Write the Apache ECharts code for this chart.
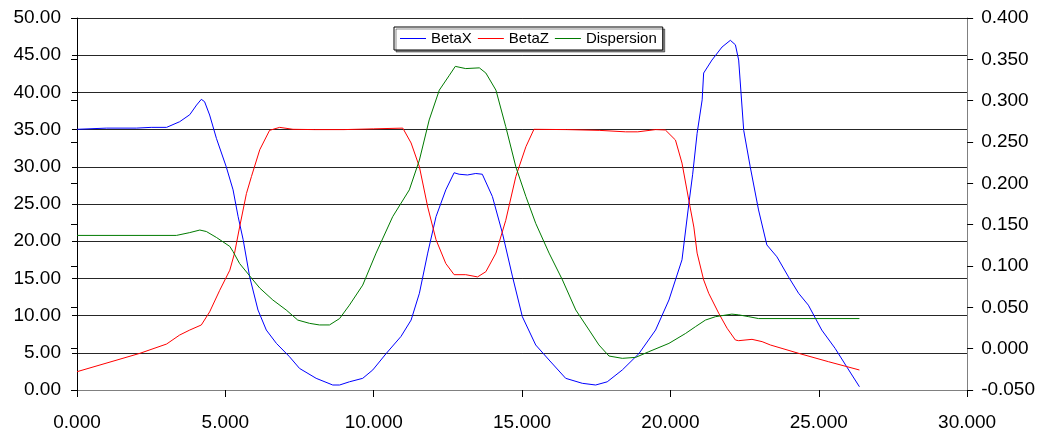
<!DOCTYPE html>
<html>
<head>
<meta charset="utf-8">
<script src="https://cdn.jsdelivr.net/npm/echarts@6/dist/echarts.min.js"></script>
<style>
  html, body { margin: 0; padding: 0; background: #fff; }
  #chart { width: 1038px; height: 434px; }
</style>
</head>
<body>
<div id="chart"></div>
<script>
// Beam optics functions along the lattice (s in m)
const sBetaX = [0, 1.0, 2.0, 2.5, 3.02, 3.46, 3.8, 4.03, 4.19, 4.3, 4.47, 4.7, 5.03, 5.26, 5.43, 5.6, 5.82, 6.1, 6.38, 6.72, 7.16, 7.5, 8.06, 8.62, 8.85, 9.18, 9.63, 9.97, 10.42, 10.92, 11.26, 11.54, 11.82, 12.1, 12.43, 12.71, 12.88, 13.16, 13.44, 13.66, 14.0, 14.34, 14.68, 15.01, 15.46, 15.91, 16.47, 17.03, 17.48, 17.87, 18.38, 18.94, 19.5, 19.95, 20.39, 20.62, 20.75, 20.9, 21.07, 21.12, 21.4, 21.74, 22.02, 22.19, 22.3, 22.47, 22.69, 22.97, 23.25, 23.59, 23.98, 24.32, 24.65, 25.1, 25.55, 25.94, 26.37];
const betaX = [35.04, 35.2, 35.2, 35.3, 35.3, 36.06, 37.0, 38.3, 39.07, 38.75, 36.96, 33.8, 30.0, 26.9, 23.3, 20.2, 15.2, 10.75, 8.06, 6.27, 4.48, 2.9, 1.57, 0.67, 0.67, 1.1, 1.57, 2.7, 4.9, 7.2, 9.4, 13.0, 18.4, 23.3, 26.9, 29.2, 29.0, 28.9, 29.1, 29.0, 26.0, 21.06, 15.2, 9.85, 6.05, 4.03, 1.57, 0.9, 0.67, 1.1, 2.7, 4.9, 8.06, 12.1, 17.5, 25.0, 29.0, 34.5, 39.0, 42.6, 44.35, 46.1, 47.0, 46.4, 44.35, 34.9, 30.0, 24.2, 19.5, 17.9, 15.2, 13.0, 11.4, 8.06, 5.6, 3.13, 0.44];

const sBetaZ = [0, 2.12, 3.02, 3.46, 3.8, 4.19, 4.47, 4.81, 5.15, 5.31, 5.48, 5.71, 5.88, 6.16, 6.49, 6.83, 7.28, 8.0, 9.0, 10.0, 10.98, 11.26, 11.54, 11.82, 12.1, 12.43, 12.71, 13.1, 13.5, 13.78, 14.12, 14.45, 14.79, 15.13, 15.4, 16.5, 17.6, 18.49, 18.9, 19.5, 19.83, 20.17, 20.39, 20.62, 20.79, 20.9, 21.12, 21.29, 21.63, 21.91, 22.19, 22.3, 22.75, 23.09, 23.37, 24.32, 25.33, 26.37];
const betaZ = [2.46, 4.93, 6.18, 7.39, 8.06, 8.74, 10.5, 13.4, 16.1, 18.4, 21.9, 26.4, 28.7, 32.3, 34.9, 35.3, 35.04, 35.0, 35.0, 35.1, 35.2, 33.2, 30.0, 24.6, 20.2, 17.0, 15.5, 15.5, 15.2, 15.9, 18.4, 22.8, 28.7, 32.7, 35.04, 35.0, 34.9, 34.7, 34.7, 35.0, 34.95, 33.6, 30.5, 25.5, 21.9, 18.4, 14.8, 13.0, 10.3, 8.3, 6.72, 6.63, 6.81, 6.5, 6.05, 4.93, 3.8, 2.69];

const sDisp = [0, 3.35, 3.8, 4.14, 4.36, 4.7, 5.15, 5.26, 5.48, 5.93, 6.16, 6.6, 7.05, 7.44, 7.84, 8.17, 8.51, 8.85, 9.18, 9.63, 10.08, 10.64, 11.2, 11.54, 11.87, 12.21, 12.55, 12.75, 13.1, 13.56, 13.78, 14.12, 14.45, 14.79, 15.13, 15.46, 15.91, 16.36, 16.81, 17.26, 17.59, 17.93, 18.38, 18.83, 19.27, 19.95, 20.51, 20.84, 21.18, 21.52, 22.07, 22.3, 22.64, 22.97, 26.37];
const disp = [0.137, 0.137, 0.1404, 0.1435, 0.1417, 0.1345, 0.1237, 0.1174, 0.103, 0.0832, 0.0733, 0.0589, 0.0468, 0.0346, 0.0306, 0.0287, 0.0287, 0.0364, 0.0526, 0.0769, 0.1156, 0.1597, 0.1921, 0.2281, 0.2767, 0.3127, 0.3307, 0.3415, 0.3388, 0.3397, 0.3334, 0.3127, 0.2686, 0.22, 0.184, 0.1516, 0.1156, 0.0832, 0.0468, 0.0225, 0.0045, -0.0089, -0.0117, -0.0105, -0.0037, 0.0064, 0.0184, 0.0265, 0.0346, 0.0387, 0.0418, 0.0409, 0.0387, 0.0364, 0.0364];

const seriesNames = ['BetaX', 'BetaZ', 'Dispersion'];
const seriesColors = ['#0000ff', '#ff0000', '#007a00'];

const zip = (xs, ys) => xs.map((x, i) => [x, ys[i]]);

const FONT = '"Liberation Sans", Arial, sans-serif';

const chart = echarts.init(document.getElementById('chart'), null, { renderer: 'canvas' });

const lineSeries = (name, data, color, yIdx) => ({
  name, type: 'line', data, yAxisIndex: yIdx,
  showSymbol: false, symbol: 'none', smooth: false,
  lineStyle: { color, width: 1 }, itemStyle: { color },
  animation: false
});

chart.setOption({
  animation: false,
  backgroundColor: '#fff',
  textStyle: { fontFamily: FONT },
  grid: { left: 77, right: 69, top: 18, bottom: 44, containLabel: false },
  legend: {
    data: seriesNames,
    left: 394, top: 27,
    padding: [4, 6, 4, 6],
    itemWidth: 26, itemHeight: 1, itemGap: 6,
    icon: 'rect',
    borderColor: '#000', borderWidth: 1,
    backgroundColor: '#fff',
    shadowColor: 'rgba(0,0,0,0.45)', shadowBlur: 0, shadowOffsetX: 2, shadowOffsetY: 2,
    textStyle: { fontFamily: FONT, fontSize: 15, color: '#000' }
  },
  xAxis: {
    type: 'value', min: 0, max: 30, interval: 5,
    axisLine: { show: true, lineStyle: { color: '#808080', width: 1 } },
    axisTick: { show: true, inside: false, length: 7, lineStyle: { color: '#000' } },
    splitLine: { show: false },
    axisLabel: { fontFamily: FONT, fontSize: 19, color: '#000', margin: 23, formatter: v => v.toFixed(3) }
  },
  yAxis: [
    {
      type: 'value', min: 0, max: 50, interval: 5, position: 'left',
      axisLine: { show: true, onZero: false, lineStyle: { color: '#000', width: 1 } },
      axisTick: { show: true, inside: false, length: 5, lineStyle: { color: '#000' } },
      splitLine: { show: true, lineStyle: { color: '#262626', width: 1 } },
      axisLabel: { fontFamily: FONT, fontSize: 19, color: '#000', margin: 16, formatter: v => v.toFixed(2) }
    },
    {
      type: 'value', min: -0.05, max: 0.4, interval: 0.05, position: 'right',
      axisLine: { show: true, onZero: false, lineStyle: { color: '#808080', width: 1 } },
      axisTick: { show: true, inside: false, length: 6, lineStyle: { color: '#000' } },
      splitLine: { show: false },
      axisLabel: { fontFamily: FONT, fontSize: 19, color: '#000', margin: 14, formatter: v => v.toFixed(3) }
    },
    {
      // inner half of the cross ticks on the secondary axis
      type: 'value', min: -0.05, max: 0.4, interval: 0.05, position: 'right', offset: 0,
      axisLine: { show: false },
      axisTick: { show: true, inside: true, length: 6, lineStyle: { color: '#000' } },
      splitLine: { show: false },
      axisLabel: { show: false }
    }
  ],
  series: [
    lineSeries(seriesNames[0], zip(sBetaX, betaX), seriesColors[0], 0),
    lineSeries(seriesNames[1], zip(sBetaZ, betaZ), seriesColors[1], 0),
    lineSeries(seriesNames[2], zip(sDisp, disp), seriesColors[2], 1)
  ]
});
</script>
</body>
</html>
